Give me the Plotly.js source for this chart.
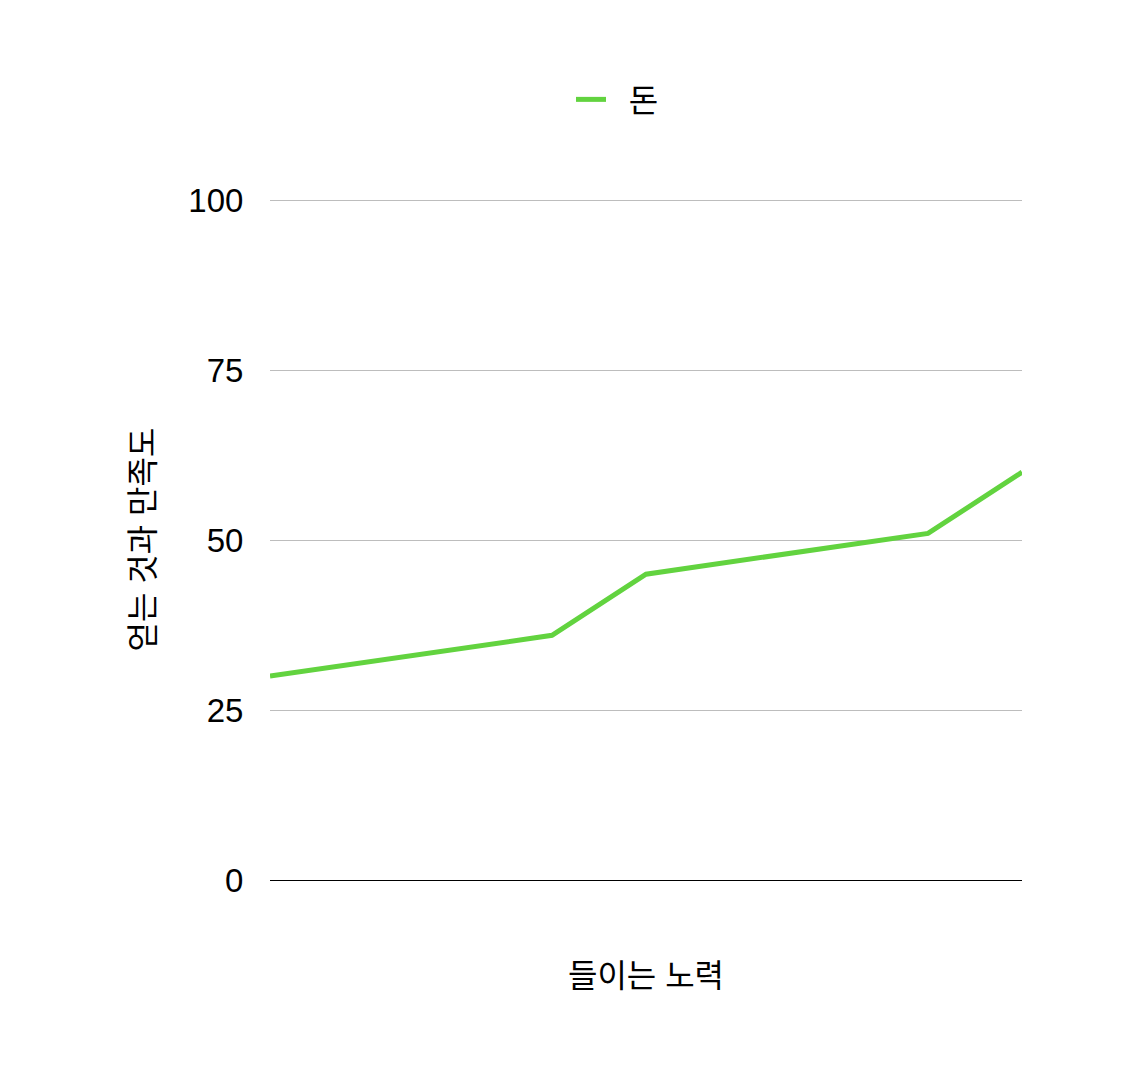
<!DOCTYPE html>
<html>
<head>
<meta charset="utf-8">
<script src="https://cdn.plot.ly/plotly-3.0.1.min.js"></script>
<style>
  html, body { margin: 0; padding: 0; background: #fff; }
  #chartdiv { width: 1132px; height: 1080px; }
</style>
</head>
<body>
<div id="chartdiv"></div>
<script>
// effort (x) vs. satisfaction (y)
const effort = [0, 3, 4, 7, 8];
const money = [30, 36, 45, 51, 60];
const yTicks = [0, 25, 50, 75, 100];
const seriesName = '돈';
const xTitle = '들이는 노력';
const yTitle = '얻는 것과 만족도';

const font = 'Liberation Sans, "Noto Sans CJK KR", sans-serif';

const trace = {
  x: effort,
  y: money,
  // nbsp pads the gap between legend swatch and label
  name: '\u00a0\u00a0' + seriesName,
  mode: 'lines',
  type: 'scatter',
  line: {color: '#62d33f', width: 5},
};

const layout = {
  width: 1132,
  height: 1080,
  margin: {l: 270, r: 110, t: 199, b: 200},
  paper_bgcolor: '#fff',
  plot_bgcolor: '#fff',
  font: {family: font, size: 32, color: '#000'},
  showlegend: true,
  legend: {
    orientation: 'h',
    x: 0.4003, xanchor: 'left',
    y: 1.146, yanchor: 'middle',
    font: {family: font, size: 32, color: '#000'},
    itemwidth: 30,
  },
  xaxis: {
    range: [0, 8],
    showgrid: false,
    zeroline: false,
    showticklabels: false,
    ticks: '',
    showline: false,
    title: {text: xTitle, standoff: 84, font: {family: font, size: 32}},
    automargin: true,
  },
  yaxis: {
    range: [0, 100.2],
    tickvals: yTicks,
    ticktext: yTicks.map(String),
    showgrid: true,
    gridcolor: '#bdbdbd',
    gridwidth: 1,
    zeroline: true,
    zerolinecolor: '#000',
    zerolinewidth: 1,
    showline: false,
    ticks: 'outside',
    ticklen: 19,
    tickcolor: 'rgba(0,0,0,0)',
    tickfont: {family: font, size: 33},
    title: {text: yTitle, standoff: 24, font: {family: font, size: 32}},
    automargin: true,
  },
};

Plotly.newPlot('chartdiv', [trace], layout, {displayModeBar: false, responsive: false});
</script>
</body>
</html>
